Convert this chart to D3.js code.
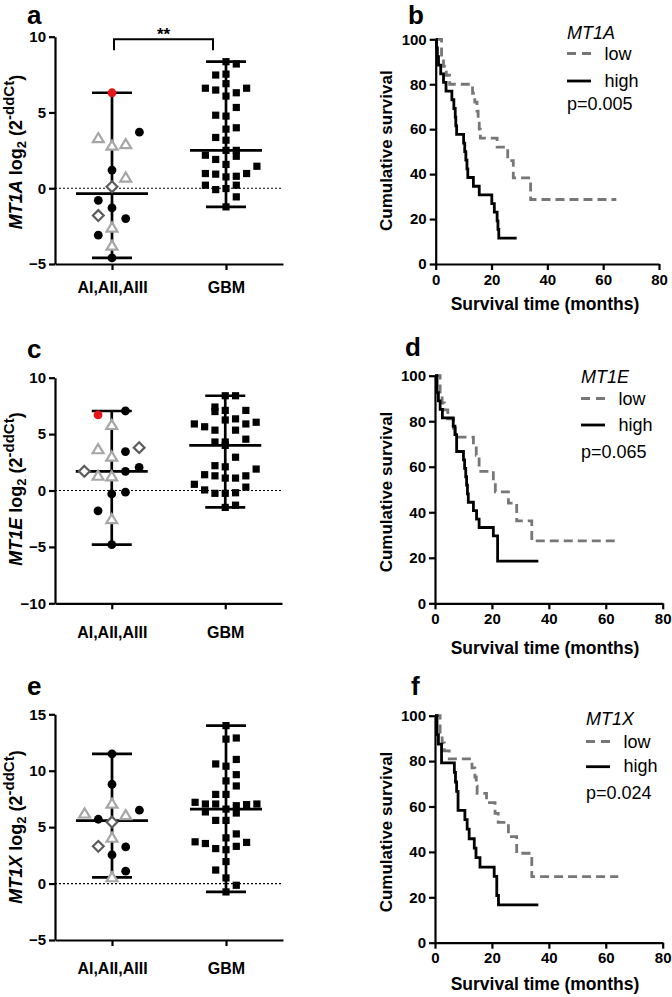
<!DOCTYPE html>
<html><head><meta charset="utf-8">
<script src="https://cdn.jsdelivr.net/npm/d3@7"></script>
<style>
body{margin:0;background:#fff}
svg{display:block}
text{font-family:"Liberation Sans",Arial,Helvetica,sans-serif}
</style>
</head><body>
<svg id="chart" width="672" height="997"></svg>
<script>
// ---------------- DATA ----------------
const scatterCats = ["AI,AII,AIII", "GBM"];
const ticksA = [-5, 0, 5, 10];
const ticksC = [-10, -5, 0, 5, 10];
const ticksE = [-5, 0, 5, 10, 15];
const kmXTicks = [0, 20, 40, 60, 80];
const kmYTicks = [0, 20, 40, 60, 80, 100];
const panelLetters = ["a", "b", "c", "d", "e", "f"];
const genes = ["MT1A", "MT1E", "MT1X"];
const pValues = ["p=0.005", "p=0.065", "p=0.024"];
const legendLabels = ["low", "high"];

// MT1A  (astrocytoma grades: circle / red circle / triangle / diamond)
const mt1aAstroValues = [6.3, 3.7, 3.3, 2.8, 2.9, 1.2, 0.7, 0.1, -0.8, -1.3, -1.8, -2.0, -2.6, -3.1, -3.8, -4.6];
const mt1aAstroMarks  = ["red","circle","tri","tri","tri","circle","tri","dia","circle","circle","dia","circle","tri","circle","tri","circle"];
const mt1aAstroSlots  = [0, 2, -1, 0, 1, 0, 1, 0, -1, 0, -1, 1, 0, -1, 0, 0];
const mt1aGbmValues = [8.35, 8.2, 7.47, 7.53, 6.9, 6.6, 6.48, 6.6, 6.3, 6.08, 5.33, 4.82, 4.76, 3.99, 3.9, 3.35, 3.17, 2.5, 2.5, 2.18, 2.11, 1.9, 1.57, 1.45, 0.97, 0.93, 0.97, 0.79, 0.75, 0.2, 0.2, -0.09, -0.02, -0.57, -1.23];
const mt1aGbmSlots  = [0, 1, -1, 0, 0, -2, -1, 2, 1, 0, 1, -1, 0, 1, 0, -1, 0, 0, 1, -2, 1, -1, 0, 3, -2, -1, 2, 1, 0, -2, 1, -1, 0, 1, 0];

// MT1E
const mt1eAstroValues = [7.05, 6.7, 5.8, 3.8, 3.65, 3.45, 3.0, 2.05, 1.7, 1.7, 1.3, 1.25, -0.15, -0.3, -1.8, -2.55, -4.8];
const mt1eAstroMarks  = ["circle","red","tri","dia","tri","circle","tri","circle","dia","circle","tri","tri","circle","circle","circle","tri","circle"];
const mt1eAstroSlots  = [1, -1, 0, 2, -1, 1, 0, 2, -2, 1, -1, 0, 1, 0, -1, 0, 0];
const mt1eGbmValues = [8.4, 8.4, 7.4, 7.0, 7.1, 7.1, 5.9, 5.65, 6.25, 6.35, 5.9, 6.05, 5.35, 5.35, 4.3, 4.3, 4.55, 4.0, 2.95, 2.2, 2.1, 1.9, 1.4, 1.3, 1.1, 1.1, 1.3, 0.55, 0.05, 0.3, -0.25, -0.25, -0.2, -1.5, -1.3];
const mt1eGbmSlots  = [0, 1, -1, -1, 0, 2, -3, -2, 0, 1, 2, 3, -1, 1, -1, 0, 2, 0, 1, -1, 0, 3, -2, -1, 0, 1, 2, -3, -2, 2, -1, 0, 1, 0, 1];

// MT1X
const mt1xAstroValues = [11.5, 8.8, 7.07, 6.2, 6.05, 6.5, 5.7, 5.45, 4.05, 3.3, 3.25, 2.55, 1.1, 0.55];
const mt1xAstroMarks  = ["circle","circle","tri","tri","tri","circle","circle","dia","tri","dia","circle","circle","circle","tri"];
const mt1xAstroSlots  = [0, 0, 0, -2, 1, 2, -1, 0, 0, -1, 1, 0, 1, 0];
const mt1xGbmValues = [14.0, 12.8, 12.9, 11.0, 10.6, 10.4, 9.65, 9.1, 8.65, 7.9, 7.9, 7.2, 7.05, 7.05, 7.0, 7.05, 6.9, 6.6, 6.35, 6.25, 5.6, 5.6, 4.05, 4.4, 3.7, 3.55, 3.65, 3.3, 3.1, 3.0, 1.95, 1.2, 0.5, -0.15, -0.74];
const mt1xGbmSlots  = [0, 0, 1, 1, -1, 0, 1, 0, 1, -1, 0, -3, -2, -1, 2, 3, 1, 0, -2, 1, -1, 0, 0, 1, -3, -2, 2, 1, -1, 0, 0, -1, 0, 1, 0];

// Kaplan-Meier curves (event times in months, survival % after each step, last follow-up)
const mt1aLowTimes = [0, 2.1, 2.8, 3.8, 5.0, 13.2, 14.0, 14.8, 15.2, 15.6, 16.0, 22.0, 25.8, 27.8, 34.0];
const mt1aLowSurv  = [100, 92, 88, 84, 80, 76, 72, 68, 64, 60, 56, 52, 46, 38.3, 28.7];
const mt1aLowEnd = 64.7;
const mt1aHighTimes = [0, 0.3, 0.6, 1.0, 1.8, 2.8, 3.7, 5.8, 6.5, 7.0, 7.2, 7.5, 10.0, 10.4, 10.8, 11.2, 11.5, 13.5, 15.6, 20.1, 21.0, 22.0, 22.3, 22.6];
const mt1aHighSurv  = [100, 96.2, 92.3, 88.5, 84.6, 80.8, 76.9, 73.1, 69.2, 65.4, 61.5, 57.7, 53.8, 50, 46.2, 42.3, 38.5, 34.6, 30.8, 26.9, 23.1, 19.2, 15.4, 11.5];
const mt1aHighEnd = 29;

const mt1eLowTimes = [0, 1.8, 2.5, 3.3, 4.5, 6.5, 7.2, 13.5, 14.5, 15.5, 20.5, 21.2, 25.8, 28.7, 34.0];
const mt1eLowSurv  = [100, 92, 88, 85, 81, 77, 73, 69, 65, 58, 53, 49, 44, 36.2, 27.4];
const mt1eLowEnd = 64.4;
const mt1eHighTimes = [0, 0.7, 1.2, 1.8, 2.6, 6.4, 7.0, 7.6, 10.0, 10.4, 10.8, 11.1, 11.4, 11.7, 13.5, 14.6, 15.5, 20.5, 22.0];
const mt1eHighSurv  = [100, 92.6, 88.9, 85.2, 81.5, 77.8, 74.1, 66.7, 63.0, 59.3, 55.6, 51.9, 48.1, 44.4, 40.7, 37.0, 33.3, 29.6, 18.5];
const mt1eHighEnd = 36.3;

const mt1xLowTimes = [0, 1.8, 2.5, 3.3, 5.0, 13.0, 14.0, 14.5, 14.8, 18.1, 21.1, 22.2, 25.8, 28.7, 34.0];
const mt1xLowSurv  = [100, 92, 88, 84.5, 81, 77, 73, 69, 65.8, 61.7, 57, 53, 46.7, 39.4, 29.1];
const mt1xLowEnd = 64.4;
const mt1xHighTimes = [0, 0.7, 1.2, 2.3, 6.8, 7.2, 7.6, 8.1, 10.5, 11.3, 12.0, 13.8, 14.4, 15.8, 20.8, 21.7, 22.3];
const mt1xHighSurv  = [100, 91.7, 87.5, 79.2, 75, 70.8, 66.7, 58.3, 54.2, 50, 45.8, 41.7, 37.5, 33.3, 29.2, 20.8, 16.7];
const mt1xHighEnd = 36.3;

// ---------------- LAYOUT ----------------
const scatterLayout = [
  {x0:55, x1:283, yTop:36.7, yBottom:264, domain:[-5,10], ticks:ticksA, catPad:12, titleY:152, letterY:24, sig:{x1:114, x2:213, y:39.3, drop:11}},
  {x0:55, x1:282, yTop:377.7, yBottom:603.3, domain:[-10,10], ticks:ticksC, catPad:17, titleY:489, letterY:358},
  {x0:55, x1:283, yTop:714.3, yBottom:940, domain:[-5,15], ticks:ticksE, catPad:17, titleY:827, letterY:695}
];
const kmLayout = [
  {x0:435.7, x1:659, yTop:39.3, yBottom:264, titleY:150.7, xTitleY:310, letterX:408, letterY:24,
   legX:567, geneY:38.5, lowY:53.5, highY:81, pY:110},
  {x0:435, x1:662.7, yTop:375.7, yBottom:603.3, titleY:492, xTitleY:653.5, letterX:405, letterY:356,
   legX:581, geneY:383, lowY:398.5, highY:425, pY:458},
  {x0:435, x1:662.7, yTop:715.7, yBottom:942.7, titleY:832, xTitleY:990, letterX:411, letterY:695,
   legX:586, geneY:725, lowY:741.5, highY:766.7, pY:799}
];

const svg = d3.select("#chart");
const RED = "#e8141b", TRI = "#a6a6a6", DIA = "#5c5c5c", DASH = "#777777";

function styleAxis(g, fs) {
  g.select(".domain").attr("stroke", "#000").attr("stroke-width", 2.2);
  g.selectAll(".tick line").attr("stroke", "#000").attr("stroke-width", 2.2);
  g.selectAll(".tick text").attr("fill", "#000").attr("font-weight", "bold").attr("font-size", fs)
    .attr("font-family", '"Liberation Sans", Arial, sans-serif');
}

function drawMarker(g, type, cx, cy) {
  if (type === "circle" || type === "red") {
    g.append("circle").attr("cx", cx).attr("cy", cy).attr("r", 4.4).attr("fill", type === "red" ? RED : "#000");
  } else if (type === "square") {
    g.append("rect").attr("x", cx - 3.6).attr("y", cy - 3.6).attr("width", 7.2).attr("height", 7.2).attr("fill", "#000");
  } else if (type === "tri") {
    const s = 5.2;
    g.append("path").attr("d", `M${cx},${cy - s}L${cx + s * 1.05},${cy + s * 0.75}L${cx - s * 1.05},${cy + s * 0.75}Z`)
      .attr("fill", "#fff").attr("stroke", TRI).attr("stroke-width", 2.2).attr("stroke-linejoin", "miter");
  } else if (type === "dia") {
    const s = 5.4;
    g.append("path").attr("d", `M${cx},${cy - s}L${cx + s},${cy}L${cx},${cy + s}L${cx - s},${cy}Z`)
      .attr("fill", "#fff").attr("stroke", DIA).attr("stroke-width", 2.2);
  }
}

function drawScatter(idx, gene, groups) {
  const L = scatterLayout[idx];
  const g = svg.append("g");
  const y = d3.scaleLinear().domain(L.domain).range([L.yBottom, L.yTop]);
  const x = d3.scalePoint().domain(scatterCats).range([L.x0, L.x1]).padding(0.5);

  g.append("line").attr("x1", L.x0).attr("x2", L.x1).attr("y1", y(0)).attr("y2", y(0))
    .attr("stroke", "#000").attr("stroke-width", 1.1).attr("stroke-dasharray", "2,2");

  const ya = g.append("g").attr("transform", `translate(${L.x0},0)`)
    .call(d3.axisLeft(y).tickValues(L.ticks).tickSize(6).tickSizeOuter(0).tickPadding(3));
  styleAxis(ya, 15);
  const xa = g.append("g").attr("transform", `translate(0,${L.yBottom})`)
    .call(d3.axisBottom(x).tickSize(6).tickSizeOuter(0).tickPadding(L.catPad));
  styleAxis(xa, 16);

  groups.forEach(gr => {
    const cx = x(gr.cat);
    const vmin = d3.min(gr.values), vmax = d3.max(gr.values), med = d3.median(gr.values);
    const lg = g.append("g").attr("stroke", "#000").attr("stroke-width", 2.7);
    lg.append("line").attr("x1", cx).attr("x2", cx).attr("y1", y(vmin)).attr("y2", y(vmax));
    [vmin, vmax].forEach(v => lg.append("line").attr("x1", cx - 20).attr("x2", cx + 20).attr("y1", y(v)).attr("y2", y(v)));
    lg.append("line").attr("x1", cx - 36).attr("x2", cx + 36).attr("y1", y(med)).attr("y2", y(med));
    const mg = g.append("g");
    gr.values.forEach((v, i) => drawMarker(mg, gr.marks ? gr.marks[i] : "square", cx + gr.slots[i] * gr.step, y(v)));
  });

  // y title
  const t = g.append("text").attr("transform", `translate(22,${L.titleY}) rotate(-90)`)
    .attr("text-anchor", "middle").attr("font-weight", "bold").attr("font-size", 18).attr("fill", "#000");
  t.append("tspan").attr("font-style", "italic").text(gene);
  t.append("tspan").text(" log");
  t.append("tspan").attr("font-size", 13).attr("dy", 4).text("2");
  t.append("tspan").attr("dy", -4).text(" (2");
  t.append("tspan").attr("font-size", 15).attr("dy", -8).text("-ddCt");
  t.append("tspan").attr("dy", 8).text(")");

  svg.append("text").attr("x", 27).attr("y", L.letterY).attr("font-size", 26).attr("font-weight", "bold")
    .text(panelLetters[idx * 2]);

  if (L.sig) {
    g.append("path").attr("d", `M${L.sig.x1},${L.sig.y + L.sig.drop}V${L.sig.y}H${L.sig.x2}V${L.sig.y + L.sig.drop}`)
      .attr("fill", "none").attr("stroke", "#000").attr("stroke-width", 2);
    g.append("text").attr("x", (L.sig.x1 + L.sig.x2) / 2).attr("y", L.sig.y + 1).attr("text-anchor", "middle")
      .attr("font-size", 17).attr("font-weight", "bold").text("**");
  }
}

function kmPoints(times, surv, end) {
  const pts = times.map((t, i) => [t, surv[i]]);
  pts.push([end, surv[surv.length - 1]]);
  return pts;
}

function drawKM(idx, low, high) {
  const L = kmLayout[idx];
  const g = svg.append("g");
  const x = d3.scaleLinear().domain([0, 80]).range([L.x0, L.x1]);
  const y = d3.scaleLinear().domain([0, 100]).range([L.yBottom, L.yTop]);

  const ya = g.append("g").attr("transform", `translate(${L.x0},0)`)
    .call(d3.axisLeft(y).tickValues(kmYTicks).tickSize(6).tickSizeOuter(0).tickPadding(3));
  styleAxis(ya, 15);
  const xa = g.append("g").attr("transform", `translate(0,${L.yBottom})`)
    .call(d3.axisBottom(x).tickValues(kmXTicks).tickSize(6).tickSizeOuter(0).tickPadding(4));
  styleAxis(xa, 15);

  const line = d3.line().x(d => x(d[0])).y(d => y(d[1])).curve(d3.curveStepAfter);
  g.append("path").attr("d", line(low)).attr("fill", "none").attr("stroke", DASH)
    .attr("stroke-width", 2.8).attr("stroke-dasharray", "9,5");
  g.append("path").attr("d", line(high)).attr("fill", "none").attr("stroke", "#000")
    .attr("stroke-width", 2.8);

  g.append("text").attr("transform", `translate(391.5,${L.titleY}) rotate(-90)`).attr("text-anchor", "middle")
    .attr("font-size", 17).attr("font-weight", "bold").text("Cumulative survival");
  g.append("text").attr("x", 545).attr("y", L.xTitleY).attr("text-anchor", "middle")
    .attr("font-size", 17.5).attr("font-weight", "bold").text("Survival time (months)");

  // legend
  g.append("text").attr("x", L.legX).attr("y", L.geneY).attr("font-size", 18).attr("font-style", "italic").text(genes[idx]);
  g.append("line").attr("x1", L.legX).attr("x2", L.legX + 24).attr("y1", L.lowY).attr("y2", L.lowY)
    .attr("stroke", DASH).attr("stroke-width", 2.8).attr("stroke-dasharray", "9,6");
  g.append("text").attr("x", L.legX + 37.5).attr("y", L.lowY + 6.5).attr("font-size", 18).text(legendLabels[0]);
  g.append("line").attr("x1", L.legX).attr("x2", L.legX + 24).attr("y1", L.highY).attr("y2", L.highY)
    .attr("stroke", "#000").attr("stroke-width", 2.8);
  g.append("text").attr("x", L.legX + 37.5).attr("y", L.highY + 5.5).attr("font-size", 18).text(legendLabels[1]);
  g.append("text").attr("x", L.legX).attr("y", L.pY).attr("font-size", 18).text(pValues[idx]);

  svg.append("text").attr("x", L.letterX).attr("y", L.letterY).attr("font-size", 26).attr("font-weight", "bold")
    .text(panelLetters[idx * 2 + 1]);
}

drawScatter(0, "MT1A", [
  {cat: scatterCats[0], values: mt1aAstroValues, marks: mt1aAstroMarks, slots: mt1aAstroSlots, step: 13.7},
  {cat: scatterCats[1], values: mt1aGbmValues, slots: mt1aGbmSlots, step: 10.3}
]);
drawScatter(1, "MT1E", [
  {cat: scatterCats[0], values: mt1eAstroValues, marks: mt1eAstroMarks, slots: mt1eAstroSlots, step: 13.7},
  {cat: scatterCats[1], values: mt1eGbmValues, slots: mt1eGbmSlots, step: 10.3}
]);
drawScatter(2, "MT1X", [
  {cat: scatterCats[0], values: mt1xAstroValues, marks: mt1xAstroMarks, slots: mt1xAstroSlots, step: 13.7},
  {cat: scatterCats[1], values: mt1xGbmValues, slots: mt1xGbmSlots, step: 10.3}
]);

drawKM(0, kmPoints(mt1aLowTimes, mt1aLowSurv, mt1aLowEnd), kmPoints(mt1aHighTimes, mt1aHighSurv, mt1aHighEnd));
drawKM(1, kmPoints(mt1eLowTimes, mt1eLowSurv, mt1eLowEnd), kmPoints(mt1eHighTimes, mt1eHighSurv, mt1eHighEnd));
drawKM(2, kmPoints(mt1xLowTimes, mt1xLowSurv, mt1xLowEnd), kmPoints(mt1xHighTimes, mt1xHighSurv, mt1xHighEnd));
</script>
</body></html>
